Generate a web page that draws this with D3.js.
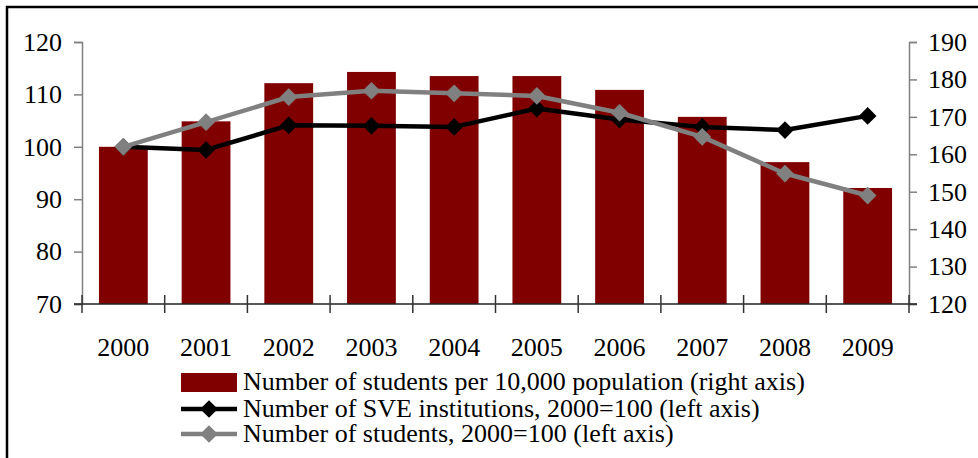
<!DOCTYPE html>
<head>
  <meta charset="utf-8">
  <script src="https://d3js.org/d3.v7.min.js"></script>
  <style>
    body { margin:0; background:#fff; }
    text { font-family: "Liberation Serif", "Times New Roman", serif; fill:#000; }
  </style>
</head>
<body>
  <script>
    var years = ["2000","2001","2002","2003","2004","2005","2006","2007","2008","2009"];
    var studentsPer10k = [162.0, 168.8, 179.0, 182.0, 180.9, 180.9, 177.2, 170.0, 157.9, 151.0];
    var institutions = [100, 99.4, 104.1, 104.0, 103.8, 107.3, 105.2, 103.8, 103.2, 105.9];
    var students = [100, 104.7, 109.5, 110.7, 110.2, 109.7, 106.5, 101.9, 94.9, 90.7];
    var leftTicks = [70, 80, 90, 100, 110, 120];
    var rightTicks = [120, 130, 140, 150, 160, 170, 180, 190];
    var legendLabels = [
      "Number of students per 10,000 population (right axis)",
      "Number of SVE institutions, 2000=100 (left axis)",
      "Number of students, 2000=100 (left axis)"
    ];

    var width = 978, height = 458;
    var plotL = 82, plotR = 909, plotT = 42, plotB = 304;
    var fontSize = "26px";

    var svg = d3.select("body").append("svg")
      .attr("width", width)
      .attr("height", height);

    // outer frame
    svg.append("rect")
      .attr("x", 7).attr("y", 7)
      .attr("width", 990).attr("height", 470)
      .attr("fill", "none").attr("stroke", "#000").attr("stroke-width", 2.5);

    var x = d3.scaleBand().domain(years).range([plotL, plotR]).paddingInner(0.41).paddingOuter(0.205);
    var xb = d3.scaleBand().domain(years).range([plotL, plotR]);
    var yL = d3.scaleLinear().domain([70, 120]).range([plotB, plotT]);
    var yR = d3.scaleLinear().domain([120, 190]).range([plotB, plotT]);

    // bars
    svg.selectAll(".bar")
      .data(studentsPer10k)
      .enter().append("rect")
      .attr("class", "bar")
      .attr("x", function(d, i) { return x(years[i]); })
      .attr("width", x.bandwidth())
      .attr("y", function(d) { return yR(d); })
      .attr("height", function(d) { return plotB - yR(d); })
      .attr("fill", "#800000");

    // left axis
    var gL = svg.append("g").attr("transform", "translate(" + plotL + ",0)")
      .call(d3.axisLeft(yL).tickValues(leftTicks).tickSize(8).tickPadding(12));
    gL.select(".domain").attr("stroke", "#808080").attr("stroke-width", 1.5);
    gL.selectAll(".tick line").attr("stroke", "#808080").attr("stroke-width", 1.5);
    gL.selectAll("text").style("font-size", fontSize).attr("fill", "#000");

    // right axis
    var gR = svg.append("g").attr("transform", "translate(" + plotR + ",0)")
      .call(d3.axisRight(yR).tickValues(rightTicks).tickSize(8).tickPadding(11));
    gR.select(".domain").attr("stroke", "#808080").attr("stroke-width", 1.5);
    gR.selectAll(".tick line").attr("stroke", "#808080").attr("stroke-width", 1.5);
    gR.selectAll("text").style("font-size", fontSize).attr("fill", "#000");

    // x axis: line with ticks at category boundaries crossing it
    svg.append("line")
      .attr("x1", plotL - 8).attr("x2", plotR + 8)
      .attr("y1", plotB).attr("y2", plotB)
      .attr("stroke", "#222").attr("stroke-width", 1.5);
    var bounds = years.map(function(y) { return xb(y); }).concat([plotR]);
    svg.selectAll(".xtick")
      .data(bounds)
      .enter().append("line")
      .attr("x1", function(d) { return d; }).attr("x2", function(d) { return d; })
      .attr("y1", plotB - 9).attr("y2", plotB + 9)
      .attr("stroke", "#333").attr("stroke-width", 1.5);
    svg.selectAll(".xlabel")
      .data(years)
      .enter().append("text")
      .attr("x", function(d) { return xb(d) + xb.bandwidth() / 2; })
      .attr("y", 356)
      .attr("text-anchor", "middle")
      .style("font-size", fontSize)
      .text(function(d) { return d; });

    // lines
    var cx = function(i) { return xb(years[i]) + xb.bandwidth() / 2; };
    var diamond = d3.symbol().type(d3.symbolDiamond2 || d3.symbolDiamond).size(200);
    function drawSeries(vals, color) {
      var line = d3.line()
        .x(function(d, i) { return cx(i); })
        .y(function(d) { return yL(d); });
      svg.append("path")
        .datum(vals)
        .attr("d", line)
        .attr("fill", "none")
        .attr("stroke", color)
        .attr("stroke-width", 4.5)
        .attr("stroke-linejoin", "round");
      svg.selectAll(null)
        .data(vals)
        .enter().append("path")
        .attr("d", diamond)
        .attr("transform", function(d, i) { return "translate(" + cx(i) + "," + yL(d) + ")"; })
        .attr("fill", color);
    }
    drawSeries(institutions, "#000");
    drawSeries(students, "#808080");

    // legend
    var lx = 181, lw = 56, tx = 243;
    var lys = [382, 409, 434];
    var lg = svg.append("g");
    lg.append("rect").attr("x", lx).attr("y", 373).attr("width", lw).attr("height", 19).attr("fill", "#800000");
    [["#000", 1], ["#808080", 2]].forEach(function(s) {
      var yy = lys[s[1]];
      lg.append("line").attr("x1", lx).attr("x2", lx + lw).attr("y1", yy).attr("y2", yy)
        .attr("stroke", s[0]).attr("stroke-width", 4.5);
      lg.append("path").attr("d", diamond).attr("transform", "translate(" + (lx + lw / 2) + "," + yy + ")").attr("fill", s[0]);
    });
    lg.selectAll("text")
      .data(legendLabels)
      .enter().append("text")
      .attr("x", tx)
      .attr("y", function(d, i) { return lys[i] + 8; })
      .style("font-size", fontSize)
      .text(function(d) { return d; });
  </script>
</body>
